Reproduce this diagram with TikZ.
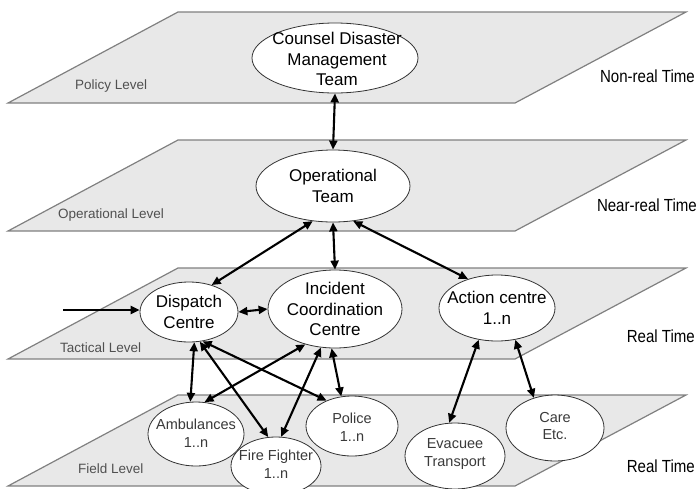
\documentclass[tikz,border=0pt]{standalone}
\usepackage{fontspec}
\setmainfont{Liberation Sans}
\newfontfamily\narrowsans[FakeStretch=0.86]{Liberation Sans}
\usetikzlibrary{arrows.meta,shapes.geometric}
\definecolor{planefill}{HTML}{E8E8E8}
\definecolor{planeedge}{HTML}{808080}
\definecolor{lvltext}{HTML}{505050}
\definecolor{fieldtext}{HTML}{3A3A3A}
\begin{document}
\begin{tikzpicture}[x=1pt,y=-1pt,
  plane/.style={fill=planefill,draw=planeedge,line width=1.2pt,line join=miter},
  oval/.style={ellipse,draw=black!80,fill=white,line width=0.8pt,inner sep=0pt},
  bigtxt/.style={align=center,inner sep=0pt,font=\fontsize{17}{20.5}\selectfont},
  smalltxt/.style={align=center,inner sep=0pt,text=fieldtext,font=\fontsize{14.5}{17.5}\selectfont},
  lvl/.style={anchor=west,inner sep=0pt,text=lvltext,font=\fontsize{13.5}{16}\selectfont},
  timelbl/.style={anchor=east,inner sep=0pt,font=\narrowsans\fontsize{17.5}{20}\selectfont},
  tip/.tip={Triangle[length=9pt,width=8pt]},
  link/.style={line width=2.1pt,tip-tip},
  inlink/.style={line width=2.1pt,-tip}
]
\useasboundingbox (0,0) rectangle (699,488);
% planes
\foreach \t in {12,140,268,395}{
  \draw[plane] (178,\t) -- (686,\t) -- (515,\t+91) -- (8,\t+91) -- cycle;
}
% level labels
\node[lvl] (l1) at (75,86) {Policy Level};
\node[lvl] (l2) at (58,215) {Operational Level};
\node[lvl] (l3) at (60,348) {Tactical Level};
\node[lvl] (l4) at (78,469) {Field Level};
% time labels
\node[timelbl] (t1) at (695,76) {Non-real Time};
\node[timelbl] (t2) at (697,205) {Near-real Time};
\node[timelbl] (t3) at (695,336) {Real Time};
\node[timelbl] (t4) at (695,466) {Real Time};
% ellipses
\node[oval,minimum width=166pt,minimum height=70pt] (cdm) at (335,58) {};
\node[bigtxt] (cdmt) at (337,59) {Counsel Disaster\\Management\\Team};
\node[oval,minimum width=154pt,minimum height=72pt] (opt) at (333,186) {};
\node[bigtxt] (optt) at (333,186) {Operational\\Team};
\node[oval,minimum width=98pt,minimum height=60pt] (dis) at (189,312) {};
\node[bigtxt] (dist) at (189,312) {Dispatch\\Centre};
\node[oval,minimum width=134pt,minimum height=78pt] (icc) at (335,309) {};
\node[bigtxt] (icct) at (335,309) {Incident\\Coordination\\Centre};
\node[oval,minimum width=116pt,minimum height=66pt] (act) at (497,308) {};
\node[bigtxt] (actt) at (497,308) {Action centre\\1..n};
\node[oval,minimum width=96pt,minimum height=64pt] (amb) at (196,434) {};
\node[smalltxt] (ambt) at (196,433) {Ambulances\\1..n};
\node[oval,minimum width=90pt,minimum height=58pt] (ff) at (276,466) {};
\node[smalltxt] (fft) at (276,464) {Fire Fighter\\1..n};
\node[oval,minimum width=92pt,minimum height=60pt] (pol) at (352,426) {};
\node[smalltxt] (polt) at (352,427) {Police\\1..n};
\node[oval,minimum width=100pt,minimum height=66pt] (eva) at (455,456) {};
\node[smalltxt] (evat) at (455,454) {Evacuee\\Transport};
\node[oval,minimum width=98pt,minimum height=66pt] (care) at (555,428) {};
\node[smalltxt] (caret) at (555,426) {Care\\Etc.};
% connectors
\coordinate (src) at (63,310);
\draw[link] (cdm.south) -- (opt.north);
\draw[link] (opt.240) -- (dis.50);
\draw[link] (opt.south) -- (icc.north);
\draw[link] (opt.300) -- (act.135);
\draw[inlink] (src) -- (dis.west |- src);
\draw[link] (dis.east) -- (icc.west);
\draw[link] (dis.280) -- (amb.100);
\draw[link] (dis.290) -- (ff.105);
\draw[link] (dis.295) -- (pol.135);
\draw[link] (icc.230) -- (amb.75);
\draw[link] (icc.250) -- (ff.80);
\draw[link] (icc.265) -- (pol.110);
\draw[link] (act.240) -- (eva.100);
\draw[link] (act.300) -- (care.125);
\end{tikzpicture}
\end{document}
